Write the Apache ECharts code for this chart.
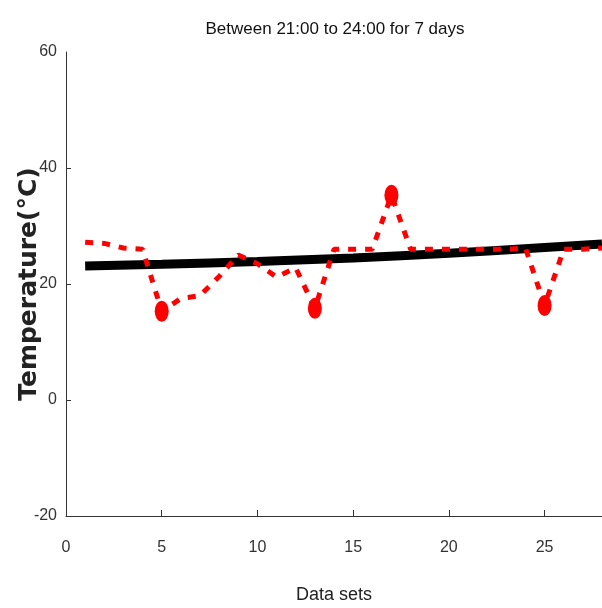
<!DOCTYPE html>
<html><head><meta charset="utf-8">
<script src="https://cdn.jsdelivr.net/npm/echarts@6/dist/echarts.min.js"></script>
<style>html,body{margin:0;padding:0;background:#fff}#c{width:602px;height:608px}</style>
</head><body><div id="c"></div>
<script>
const titleText = 'Between 21:00 to 24:00 for 7 days';
const xName = 'Data sets';
const yName = 'Temperature(°C)';
const xTicks = [0, 5, 10, 15, 20, 25];
const yTicks = [-20, 0, 20, 40, 60];
// measured temperatures (red dashed)
const measX = [1,2,3,4,5,6,7,8,9,10,11,12,13,14,15,16,17,18,19,20,21,22,23,24,25,26,27,28];
const measY = [27.2,27.0,26.2,26.0,15.3,17.5,18.0,21.3,25.0,23.5,21.2,22.8,15.8,26.0,26.0,26.0,35.3,26.0,26.0,26.0,26.0,26.0,26.0,26.2,16.3,26.0,26.0,26.2];
// highlighted extreme points
const peakX = [5, 13, 17, 25];
const peakY = [15.3, 15.8, 35.3, 16.3];
// trend line (black)
const trendX = [1, 5, 10, 15, 20, 25, 28];
const trendY = [23.1, 23.4, 23.9, 24.5, 25.3, 26.3, 26.9];

const chart = echarts.init(document.getElementById('c'), null, {renderer: 'canvas'});
const font = '"Liberation Sans", Arial, sans-serif';
chart.setOption({
  animation: false,
  title: {text: titleText, left: 330, top: 16, textAlign: 'center',
    textStyle: {fontFamily: font, fontSize: 17, fontWeight: 'normal', color: '#111'}},
  grid: {left: 66, right: 0, top: 52, bottom: 92, containLabel: false, outerBoundsMode: 'none'},
  xAxis: {type: 'value', min: 0, max: 28, interval: 5,
    name: xName, nameLocation: 'middle', nameGap: 70, nameMoveOverlap: false,
    nameTextStyle: {fontFamily: font, fontSize: 18, color: '#222'},
    axisLine: {show: true, onZero: false, lineStyle: {color: '#333', width: 1}},
    axisTick: {show: true, inside: true, length: 6, customValues: [5,10,15,20,25], lineStyle: {color: '#333'}},
    axisLabel: {customValues: xTicks, fontFamily: font, fontSize: 16, color: '#333', margin: 24},
    splitLine: {show: false}},
  yAxis: {type: 'value', min: -20, max: 60, interval: 20,
    name: yName, nameLocation: 'middle', nameGap: 24, nameRotate: 90, nameMoveOverlap: false,
    nameTextStyle: {fontFamily: '"DejaVu Sans", sans-serif', fontSize: 25, fontWeight: 'bold', color: '#222'},
    axisLine: {show: true, onZero: false, lineStyle: {color: '#333', width: 1}},
    axisTick: {show: true, inside: true, length: 5, customValues: [0,20,40], lineStyle: {color: '#333'}},
    axisLabel: {customValues: yTicks, fontFamily: font, fontSize: 16, color: '#333', margin: 9},
    splitLine: {show: false}},
  series: [
    {type: 'line', data: trendX.map((x, i) => [x, trendY[i]]), smooth: true, symbol: 'none',
      lineStyle: {color: '#000', width: 9, cap: 'butt'}, z: 2},
    {type: 'line', data: measX.map((x, i) => [x, measY[i]]), symbol: 'none',
      lineStyle: {color: '#ff0000', width: 5, type: [8, 9], cap: 'butt'}, z: 3},
    {type: 'scatter', data: peakX.map((x, i) => [x, peakY[i]]), symbol: 'circle', symbolSize: [14, 21],
      itemStyle: {color: '#ff0000', opacity: 1}, z: 4}
  ]
});
</script></body></html>
